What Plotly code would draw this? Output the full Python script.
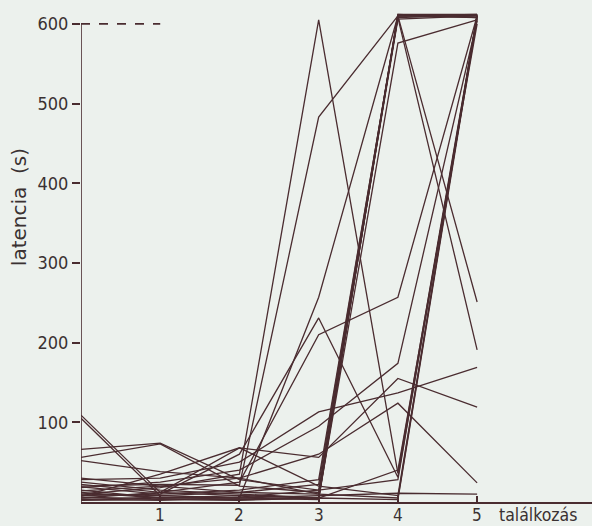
import plotly.graph_objects as go

# encounter index (0 = start, 1..5 = találkozás)
encounters = [0, 1, 2, 3, 4, 5]

# latency (s) for each animal across encounters
s01 = [109, 12, 8, 5, 612, 612]
s02 = [105, 8, 5, 3, 610, 610]
s03 = [66, 74, 28, 15, 608, 611]
s04 = [56, 73, 20, 12, 612, 608]
s05 = [52, 38, 30, 10, 606, 610]
s06 = [30, 20, 12, 22, 610, 612]
s07 = [25, 15, 10, 5, 610, 251]
s08 = [19, 10, 15, 28, 608, 191]
s09 = [15, 5, 8, 5, 576, 605]
s10 = [20, 22, 21, 483, 610, 610]
s11 = [10, 18, 35, 605, 36, 610]
s12 = [12, 5, 5, 257, 610, 608]
s13 = [8, 10, 60, 231, 31, 606]
s14 = [5, 12, 25, 210, 257, 610]
s15 = [18, 25, 40, 95, 174, 604]
s16 = [22, 12, 68, 56, 155, 119]
s17 = [28, 30, 50, 113, 137, 169]
s18 = [14, 20, 30, 60, 124, 24]
s19 = [10, 8, 12, 10, 5, 612]
s20 = [6, 4, 3, 5, 3, 608]
s21 = [3, 6, 5, 8, 11, 10]
s22 = [4, 2, 6, 15, 28, 610]
s23 = [2, 3, 2, 5, 40, 600]
s24 = [7, 35, 68, 20, 8, 611]

subjects = [s01, s02, s03, s04, s05, s06, s07, s08, s09, s10, s11, s12,
            s13, s14, s15, s16, s17, s18, s19, s20, s21, s22, s23, s24]

y_ticks = [100, 200, 300, 400, 500, 600]
x_ticks = [1, 2, 3, 4, 5]

ink = "#4a2c30"
text_col = "#3a3132"
paper = "#ecf1ed"
font_family = "DejaVu Sans Condensed, DejaVu Sans, sans-serif"
label_family = "DejaVu Sans, sans-serif"

fig = go.Figure()
for s in subjects:
    fig.add_trace(go.Scatter(x=encounters, y=s, mode="lines",
                             line=dict(color=ink, width=1.3),
                             showlegend=False, hoverinfo="skip"))

# y axis line up to 600 and dashed reference at 600
fig.add_shape(type="line", x0=0, x1=0, y0=0, y1=600, xref="x", yref="y",
              line=dict(color=ink, width=1.6))
fig.add_shape(type="line", x0=0, x1=1, y0=600, y1=600, xref="x", yref="y",
              line=dict(color=ink, width=1.6, dash="dash"))

fig.update_layout(
    width=592, height=526,
    margin=dict(l=81, r=0, t=4, b=24),
    paper_bgcolor=paper, plot_bgcolor=paper,
    font=dict(family=font_family, size=17, color=text_col),
    xaxis=dict(range=[0, 6.45], tickvals=x_ticks, showticklabels=False,
               ticks="inside", ticklen=6, tickcolor=ink, tickwidth=1.5,
               showgrid=False, zeroline=False, automargin=False,
               showline=True, linecolor=ink, linewidth=1.6),
    yaxis=dict(range=[0, 625], tickvals=y_ticks, ticktext=[str(v) for v in y_ticks],
               ticks="outside", ticklen=8, tickcolor=ink, tickwidth=1.6,
               showgrid=False, zeroline=False, showline=False, automargin=False,
               tickfont=dict(family=font_family, size=18, color=text_col)),
)

for v in x_ticks:
    fig.add_annotation(text=str(v), xref="x", yref="y", x=v, y=0,
                       yanchor="middle", yshift=-13, showarrow=False, borderpad=0,
                       font=dict(family=font_family, size=17, color=text_col))

fig.add_annotation(text="latencia  (s)", xref="paper", yref="y", x=0, y=370,
                   xanchor="center", yanchor="middle",
                   xshift=-62, textangle=-90, showarrow=False,
                   font=dict(family=label_family, size=20, color=text_col))
fig.add_annotation(text="találkozás", xref="x", yref="y", x=5.265, y=0,
                   xanchor="left", yanchor="middle", yshift=-13, showarrow=False,
                   borderpad=0,
                   font=dict(family=font_family, size=17.5, color=text_col))

fig.write_html("out.html", config={"displayModeBar": False},
               post_script="document.body.style.margin='0';document.body.style.background='%s';" % paper)
